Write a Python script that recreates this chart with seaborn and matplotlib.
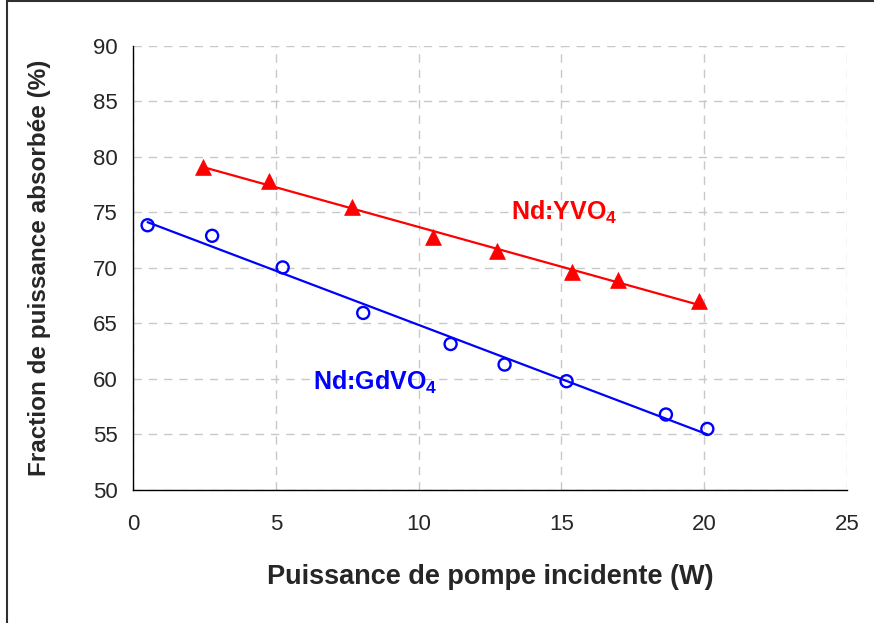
import numpy as np
import pandas as pd
import matplotlib.pyplot as plt
import seaborn as sns
from matplotlib.patches import Rectangle

# Data
yvo4_power = [2.44, 4.77, 7.68, 10.49, 12.76, 15.36, 16.97, 19.81]
yvo4_abs = [79.1, 77.8, 75.5, 72.8, 71.5, 69.6, 68.9, 67.0]

gdvo4_power = [0.51, 2.77, 5.24, 8.06, 11.12, 13.01, 15.18, 18.66, 20.11]
gdvo4_abs = [73.85, 72.9, 70.05, 65.95, 63.15, 61.3, 59.8, 56.8, 55.5]

x_ticks = [0, 5, 10, 15, 20, 25]
y_ticks = [50, 55, 60, 65, 70, 75, 80, 85, 90]

yvo4 = pd.DataFrame({'power': yvo4_power, 'absorbed': yvo4_abs})
gdvo4 = pd.DataFrame({'power': gdvo4_power, 'absorbed': gdvo4_abs})

sns.set_style('white')
plt.rcParams['font.family'] = ['Liberation Sans', 'DejaVu Sans']
plt.rcParams['mathtext.default'] = 'regular'

fig = plt.figure(figsize=(8.74, 6.23), dpi=100)
ax = fig.add_axes([0.1522, 0.2135, 0.8169, 0.7127])

# Linear trend lines (over the data range only)
sns.regplot(data=yvo4, x='power', y='absorbed', ax=ax, scatter=False, ci=None,
            truncate=True, color='red', line_kws={'linewidth': 1.6})
sns.regplot(data=gdvo4, x='power', y='absorbed', ax=ax, scatter=False, ci=None,
            truncate=True, color='blue', line_kws={'linewidth': 1.6})

# Markers
sns.scatterplot(data=yvo4, x='power', y='absorbed', ax=ax, marker='^', s=130,
                color='red', edgecolor='red', linewidth=0.5, zorder=3)
ax.scatter(gdvo4['power'], gdvo4['absorbed'], marker='o', s=75,
           facecolors='none', edgecolors='blue', linewidths=1.7, zorder=3)

ax.set_xlim(0, 25)
ax.set_ylim(50, 90)
ax.set_xticks(x_ticks)
ax.set_yticks(y_ticks)
ax.tick_params(axis='both', labelsize=16, direction='out', length=6,
               width=1, color='black', pad=5)
ax.tick_params(axis='x', pad=11)

ax.grid(True, color='#c8c8c8', linestyle=(0, (6, 5)), linewidth=1)
ax.set_axisbelow(True)
for side in ['top', 'right']:
    ax.spines[side].set_visible(False)
for side in ['left', 'bottom']:
    ax.spines[side].set_color('black')
    ax.spines[side].set_linewidth(1)

ax.set_xlabel('Puissance de pompe incidente (W)', fontsize=19.5,
              fontweight='bold', labelpad=21)
ax.set_ylabel('Fraction de puissance absorbée (%)', fontsize=17.5,
              fontweight='bold', labelpad=30)

ax.text(15.1, 75.05, 'Nd:YVO$_4$', color='red', fontsize=18, fontweight='bold',
        ha='center', va='center')
ax.text(8.47, 59.7, 'Nd:GdVO$_4$', color='blue', fontsize=18, fontweight='bold',
        ha='center', va='center')

# Outer frame (left and top edges visible)
fig.patches.append(Rectangle((0.008, -0.1), 1.2, 1.098, transform=fig.transFigure,
                             fill=False, edgecolor='#303030', linewidth=1.5))

fig.savefig('out.png', dpi=100)
